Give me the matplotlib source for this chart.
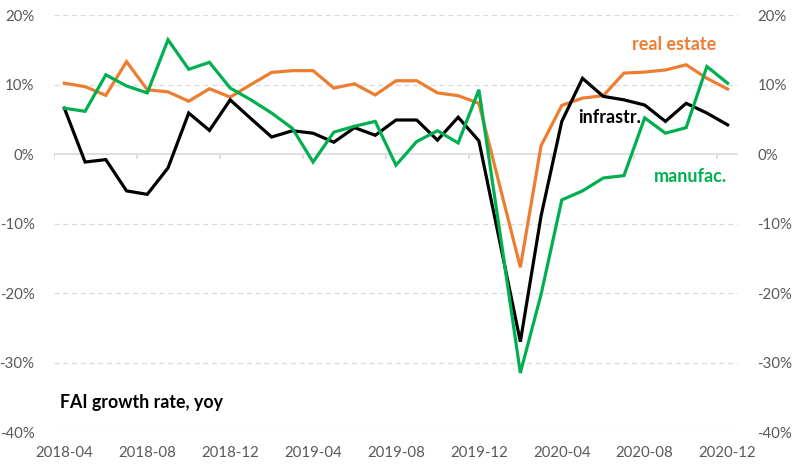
import numpy as np
import pandas as pd
import matplotlib
matplotlib.use("Agg")
import matplotlib.pyplot as plt
from matplotlib.ticker import FuncFormatter

# monthly FAI growth, yoy (%), 2018-04 .. 2020-12
months = [p.strftime("%Y-%m") for p in pd.period_range("2018-04", "2020-12", freq="M")]

real_estate = [10.2, 9.7, 8.45, 13.3, 9.25, 8.95, 7.6, 9.4, 8.2, 10.0, 11.75,
               12.0, 12.0, 9.5, 10.1, 8.5, 10.55, 10.55, 8.8, 8.4, 7.3,
               -4.5, -16.3, 1.2, 7.0, 8.05, 8.4, 11.65, 11.8, 12.1, 12.85,
               10.9, 9.35]
infrastr = [6.6, -1.15, -0.8, -5.3, -5.8, -2.0, 5.9, 3.4, 7.8, 5.1, 2.45,
            3.35, 3.0, 1.7, 3.8, 2.7, 4.9, 4.9, 2.0, 5.3, 1.9,
            -12.5, -27.0, -8.9, 4.7, 10.9, 8.3, 7.8, 7.05, 4.7, 7.3,
            5.9, 4.2]
manufac = [6.6, 6.15, 11.4, 9.8, 8.8, 16.45, 12.2, 13.2, 9.5, 7.8, 5.9,
           3.7, -1.15, 3.15, 4.0, 4.7, -1.6, 1.8, 3.35, 1.6, 9.25,
           -11.0, -31.5, -20.2, -6.6, -5.3, -3.45, -3.1, 5.2, 3.0, 3.8,
           12.6, 10.2]

label_months = months[::4]

ORANGE = "#ED7D31"
GREEN = "#00B050"
GREY = "#595959"

plt.rcParams["font.family"] = ["Lato", "DejaVu Sans"]

fig = plt.figure(figsize=(7.93, 4.71), dpi=100)
ax = fig.add_axes([0.0681, 0.0828, 0.8625, 0.8852])

x = np.arange(len(months))
ax.plot(x, real_estate, color=ORANGE, lw=2.3, solid_joinstyle="miter")
ax.plot(x, infrastr, color="black", lw=2.3, solid_joinstyle="miter")
ax.plot(x, manufac, color=GREEN, lw=2.3, solid_joinstyle="miter")

ax.set_xlim(-0.5, len(months) - 0.5)
ax.set_ylim(-40, 20)

# gridlines: dashed, zero line solid
for v in [20, 10, -10, -20, -30, -40]:
    ax.axhline(v, color="#D9D9D9", lw=0.9, ls=(0, (4, 3)), zorder=0)
ax.axhline(0, color="#D9D9D9", lw=1.2, zorder=0)
ax.vlines(np.arange(-0.5, len(months), 4), -0.65, 0, color="#D9D9D9", lw=1.2, zorder=0)

for s in ax.spines.values():
    s.set_visible(False)

pct = FuncFormatter(lambda v, _: f"{v:.0f}%")
ax.set_yticks(np.arange(-40, 21, 10))
ax.yaxis.set_major_formatter(pct)
ax.tick_params(axis="y", length=0, pad=14, labelsize=10.8, labelcolor=GREY)

ax.set_xticks([months.index(m) for m in label_months], label_months)
ax.tick_params(axis="x", length=0, pad=10, labelsize=10.8, labelcolor=GREY)

ax2 = ax.twinx()
ax2.set_ylim(ax.get_ylim())
ax2.set_yticks(np.arange(-40, 21, 10))
ax2.yaxis.set_major_formatter(pct)
ax2.tick_params(axis="y", length=0, pad=14, labelsize=10.8, labelcolor=GREY)
for s in ax2.spines.values():
    s.set_visible(False)

# series labels
ax.text(29.4, 15.8, "real estate", color=ORANGE, fontsize=13, fontweight="bold",
        ha="center", va="center")
ax.text(26.3, 5.2, "infrastr.", color="black", fontsize=13, fontweight="bold",
        ha="center", va="center")
ax.text(30.2, -3.2, "manufac.", color=GREEN, fontsize=13, fontweight="bold",
        ha="center", va="center")
ax.text(-0.2, -35.8, "FAI growth rate, yoy", color="black", fontsize=12.8,
        fontweight="bold", ha="left", va="center")

fig.savefig("out.png", dpi=100)
